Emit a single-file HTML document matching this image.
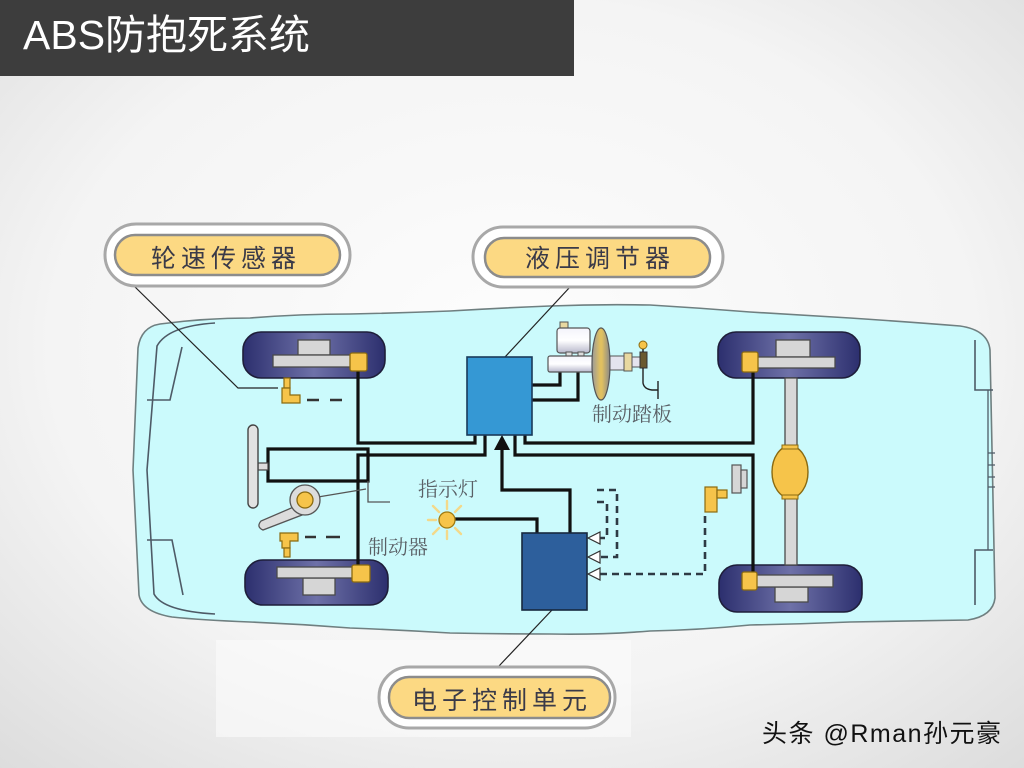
<!DOCTYPE html>
<html>
<head>
<meta charset="utf-8">
<style>
html,body{margin:0;padding:0;width:1024px;height:768px;overflow:hidden;background:#eeeeee;}
svg{display:block;}
</style>
</head>
<body>
<svg width="1024" height="768" viewBox="0 0 1024 768" xmlns="http://www.w3.org/2000/svg">
<defs>
  <radialGradient id="bg" cx="50%" cy="45%" r="75%">
    <stop offset="0" stop-color="#fdfdfd"/>
    <stop offset="0.6" stop-color="#f4f4f4"/>
    <stop offset="1" stop-color="#dcdcdc"/>
  </radialGradient>
  <linearGradient id="tire" x1="0" y1="0" x2="1" y2="0">
    <stop offset="0" stop-color="#2c2f6e"/>
    <stop offset="0.5" stop-color="#6e71a8"/>
    <stop offset="1" stop-color="#2c2f6e"/>
  </linearGradient>
  <linearGradient id="cyl" x1="0" y1="0" x2="0" y2="1">
    <stop offset="0" stop-color="#f4f4fb"/>
    <stop offset="0.5" stop-color="#ffffff"/>
    <stop offset="1" stop-color="#b8b8cc"/>
  </linearGradient>
  <linearGradient id="disc" x1="0" y1="0" x2="1" y2="0">
    <stop offset="0" stop-color="#9a9a9a"/>
    <stop offset="0.45" stop-color="#e0c060"/>
    <stop offset="0.55" stop-color="#e0c060"/>
    <stop offset="1" stop-color="#8a8a8a"/>
  </linearGradient>
</defs>

<!-- background -->
<rect x="0" y="0" width="1024" height="768" fill="url(#bg)"/>
<rect x="216" y="640" width="415" height="97" fill="#fbfbfb" opacity="0.6"/>

<!-- title bar -->
<rect x="0" y="0" width="574" height="76" fill="#3d3d3d"/>
<text x="23" y="49" font-family="'Liberation Sans','Noto Sans CJK SC',sans-serif" font-size="41" fill="#ffffff">ABS防抱死系统</text>

<!-- car body -->
<path d="M 160 324 Q 205 318 250 318 Q 300 314 350 314 Q 400 313 450 311 Q 500 308 550 306 Q 600 304 650 305 Q 700 308 750 312 Q 800 315 850 318 Q 910 322 960 326 Q 988 330 990 350 L 995 598 Q 993 616 968 620 Q 910 621 850 622 Q 800 624 750 625 Q 700 630 650 631 Q 600 635 550 634 Q 500 634 450 633 Q 400 630 350 628 Q 300 624 250 622 Q 200 620 172 617 Q 142 612 139 595 L 133 470 L 138 348 Q 141 327 160 324 Z" fill="#cbfafc" stroke="#6f7f80" stroke-width="1.6"/>
<path d="M 215 323 Q 168 326 157 346 L 147 470 L 154 594 Q 163 611 215 614" fill="none" stroke="#4e5a66" stroke-width="1.6"/>
<path d="M 182 347 L 170 400 L 147 400" fill="none" stroke="#4e5a66" stroke-width="1.6"/>
<path d="M 147 540 L 172 540 L 183 595" fill="none" stroke="#4e5a66" stroke-width="1.6"/>
<path d="M 975 340 L 975 390 L 993 390" fill="none" stroke="#4e5a66" stroke-width="1.6"/>
<path d="M 975 605 L 975 550 L 993 550" fill="none" stroke="#4e5a66" stroke-width="1.6"/>
<path d="M 988 390 L 988 550 M 988 453 L 995 453 M 988 465 L 995 465 M 988 477 L 995 477 M 988 487 L 995 487" fill="none" stroke="#4e5a66" stroke-width="1.3"/>

<!-- leader lines -->
<path d="M 133 285 L 238 388 L 278 388" fill="none" stroke="#222" stroke-width="1.2"/>
<path d="M 570 287 L 505 357" fill="none" stroke="#222" stroke-width="1.2"/>
<path d="M 552 610 L 499 666" fill="none" stroke="#222" stroke-width="1.2"/>

<!-- wheels -->
<g stroke="#1e1e3a" stroke-width="1.6">
  <rect x="243" y="332" width="142" height="46" rx="18" fill="url(#tire)"/>
  <rect x="245" y="560" width="143" height="45" rx="18" fill="url(#tire)"/>
  <rect x="718" y="332" width="142" height="46" rx="18" fill="url(#tire)"/>
  <rect x="719" y="565" width="143" height="47" rx="18" fill="url(#tire)"/>
</g>
<g fill="#d6d6d6" stroke="#4a4a4a" stroke-width="1.3">
  <rect x="298" y="340" width="32" height="15"/>
  <rect x="273" y="355" width="87" height="12"/>
  <rect x="303" y="578" width="32" height="17"/>
  <rect x="277" y="567" width="83" height="11"/>
  <rect x="776" y="340" width="34" height="17"/>
  <rect x="752" y="357" width="83" height="11"/>
  <rect x="775" y="587" width="33" height="15"/>
  <rect x="750" y="575" width="83" height="12"/>
</g>

<!-- rear axle -->
<rect x="785" y="378" width="12" height="187" fill="#d8d8d8" stroke="#4a4a4a" stroke-width="1.3"/>
<ellipse cx="790" cy="472" rx="18" ry="26" fill="#f6c44a" stroke="#8a6a10" stroke-width="1.4"/>
<rect x="782" y="445" width="16" height="4" fill="#f6c44a" stroke="#8a6a10" stroke-width="1"/>
<rect x="782" y="495" width="16" height="4" fill="#f6c44a" stroke="#8a6a10" stroke-width="1"/>

<!-- black hydraulic lines -->
<g fill="none" stroke="#111" stroke-width="3.2" stroke-linejoin="miter">
  <path d="M 358 371 L 358 443 L 475 443 L 475 435"/>
  <path d="M 485 435 L 485 455 L 358 455 L 358 566"/>
  <path d="M 525 435 L 525 443 L 753 443 L 753 372"/>
  <path d="M 515 435 L 515 455 L 753 455 L 753 573"/>
  <path d="M 532 385 L 560 385 L 560 372"/>
  <path d="M 532 400 L 578 400 L 578 372"/>
  <path d="M 268 449 L 368 449 L 368 481 L 268 481 Z"/>
  <path d="M 570 533 L 570 490 L 502 490 L 502 448"/>
  <path d="M 455 519 L 537 519 L 537 533"/>
</g>
<polygon points="502,435 494,450 510,450" fill="#111"/>

<!-- thin lines near steering -->
<path d="M 318 497 L 366 489 M 368 481 L 368 502 L 390 502" fill="none" stroke="#555" stroke-width="1.3"/>

<!-- calipers -->
<g fill="#f6c44a" stroke="#8a6a10" stroke-width="1.3">
  <rect x="350" y="353" width="17" height="18" rx="2"/>
  <rect x="352" y="565" width="18" height="17" rx="2"/>
  <rect x="742" y="352" width="16" height="20" rx="2"/>
  <rect x="742" y="572" width="15" height="18" rx="2"/>
</g>

<!-- steering wheel -->
<rect x="258" y="463" width="10" height="7" fill="#ddd" stroke="#444" stroke-width="1.2"/>
<rect x="248" y="425" width="10" height="83" rx="5" fill="#e2e2e2" stroke="#444" stroke-width="1.4"/>

<!-- ignition key -->
<path d="M 296 506 L 261 521 Q 256 527 263 530 L 302 515 Z" fill="#dcdcdc" stroke="#555" stroke-width="1.3"/>
<circle cx="305" cy="500" r="15" fill="#dcdcdc" stroke="#555" stroke-width="1.3"/>
<circle cx="305" cy="500" r="8" fill="#f6c44a" stroke="#8a6a10" stroke-width="1.3"/>

<!-- wheel speed sensors -->
<g fill="#f6c44a" stroke="#8a6a10" stroke-width="1.2">
  <rect x="284" y="378" width="6" height="10"/>
  <path d="M 282 388 L 290 388 L 290 395 L 300 395 L 300 403 L 282 403 Z"/>
  <path d="M 280 533 L 298 533 L 298 541 L 290 541 L 290 548 L 282 548 L 282 541 L 280 541 Z"/>
  <rect x="284" y="548" width="6" height="9"/>
  <rect x="705" y="487" width="12" height="25"/>
  <rect x="717" y="490" width="10" height="8"/>
</g>
<g fill="#d6d6d6" stroke="#555" stroke-width="1.2">
  <rect x="732" y="465" width="9" height="28"/>
  <rect x="741" y="470" width="6" height="18"/>
</g>
<g stroke="#333" stroke-width="2.6">
  <path d="M 307 400 L 319 400 M 330 400 L 342 400"/>
  <path d="M 305 537 L 316 537 M 326 537 L 340 537"/>
</g>

<!-- dashed signal lines -->
<g fill="none" stroke="#2e3a44" stroke-width="2.6" stroke-dasharray="7 5">
  <path d="M 597 502 L 607 502 L 607 538 L 600 538"/>
  <path d="M 597 490 L 617 490 L 617 557 L 600 557"/>
  <path d="M 600 574 L 705 574 L 705 514"/>
</g>

<!-- modulator & ECU -->
<rect x="467" y="357" width="65" height="78" fill="#3598d4" stroke="#1a3a5a" stroke-width="1.6"/>
<rect x="522" y="533" width="65" height="77" fill="#2d5f9c" stroke="#17283f" stroke-width="1.6"/>
<g fill="#ffffff" stroke="#333" stroke-width="1.2">
  <polygon points="588,538 600,532 600,544"/>
  <polygon points="588,557 600,551 600,563"/>
  <polygon points="588,574 600,568 600,580"/>
</g>

<!-- master cylinder / booster / pedal -->
<rect x="560" y="322" width="8" height="7" fill="#e8d8a0" stroke="#555" stroke-width="1"/>
<rect x="557" y="328" width="33" height="25" rx="3" fill="url(#cyl)" stroke="#555" stroke-width="1.2"/>
<rect x="566" y="352" width="6" height="4" fill="#ddd" stroke="#555" stroke-width="1"/>
<rect x="578" y="352" width="6" height="4" fill="#ddd" stroke="#555" stroke-width="1"/>
<rect x="548" y="356" width="47" height="16" rx="2" fill="url(#cyl)" stroke="#555" stroke-width="1.2"/>
<ellipse cx="601" cy="364" rx="9" ry="36" fill="url(#disc)" stroke="#555" stroke-width="1.2"/>
<rect x="610" y="356" width="14" height="14" fill="#e4e4ee" stroke="#555" stroke-width="1"/>
<rect x="624" y="353" width="8" height="18" fill="#e8d8a0" stroke="#555" stroke-width="1"/>
<rect x="632" y="357" width="8" height="10" fill="#e4e4ee" stroke="#555" stroke-width="1"/>
<rect x="640" y="352" width="7" height="16" fill="#6a5a30" stroke="#333" stroke-width="1"/>
<circle cx="643" cy="345" r="4" fill="#f6c44a" stroke="#8a6a10" stroke-width="1"/>
<path d="M 643 349 L 643 352 M 643 368 L 643 383 Q 644 389 652 390 L 658 390 M 658 381 L 658 399" fill="none" stroke="#222" stroke-width="1.4"/>

<!-- indicator lamp -->
<g stroke="#f3d98a" stroke-width="2.4" stroke-linecap="round">
  <path d="M 447 509 L 447 501"/>
  <path d="M 447 531 L 447 539"/>
  <path d="M 436 520 L 428 520"/>
  <path d="M 439 512 L 433 506"/>
  <path d="M 455 512 L 461 506"/>
  <path d="M 439 528 L 433 534"/>
  <path d="M 455 528 L 461 534"/>
</g>
<circle cx="447" cy="520" r="8" fill="#f6c44a" stroke="#a07a10" stroke-width="1.3"/>

<!-- small labels -->
<g font-family="'Liberation Serif','Noto Serif CJK SC',serif" font-size="20" fill="#5a6066" text-anchor="middle">
  <text x="448" y="496">指示灯</text>
  <text x="398" y="554">制动器</text>
  <text x="632" y="421">制动踏板</text>
</g>

<!-- callout labels -->
<g>
  <rect x="105" y="224" width="245" height="62" rx="31" fill="#ffffff" stroke="#a8a8a8" stroke-width="3"/>
  <rect x="115" y="235" width="225" height="40" rx="20" fill="#fcd983" stroke="#8c8c8c" stroke-width="2.5"/>
  <text x="226" y="267" text-anchor="middle" font-family="'Liberation Sans','Noto Sans CJK SC',sans-serif" font-size="25" letter-spacing="5" fill="#3a3a48">轮速传感器</text>

  <rect x="473" y="227" width="250" height="60" rx="30" fill="#ffffff" stroke="#a8a8a8" stroke-width="3"/>
  <rect x="485" y="238" width="225" height="39" rx="19" fill="#fcd983" stroke="#8c8c8c" stroke-width="2.5"/>
  <text x="600" y="267" text-anchor="middle" font-family="'Liberation Sans','Noto Sans CJK SC',sans-serif" font-size="25" letter-spacing="5" fill="#3a3a48">液压调节器</text>

  <rect x="379" y="667" width="236" height="61" rx="30" fill="#ffffff" stroke="#a8a8a8" stroke-width="3"/>
  <rect x="389" y="677" width="221" height="41" rx="20" fill="#fcd983" stroke="#8c8c8c" stroke-width="2.5"/>
  <text x="502" y="709" text-anchor="middle" font-family="'Liberation Sans','Noto Sans CJK SC',sans-serif" font-size="25" letter-spacing="5" fill="#3a3a48">电子控制单元</text>
</g>

<!-- watermark -->
<text x="762" y="742" font-family="'Liberation Sans','Noto Sans CJK SC',sans-serif" font-size="25" letter-spacing="1.5" fill="#111">头条 @Rman孙元豪</text>
</svg>
</body>
</html>
